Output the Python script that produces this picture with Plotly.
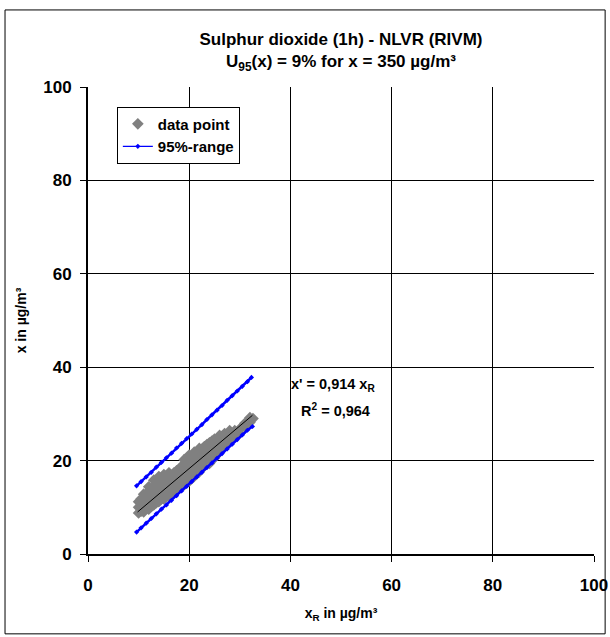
import plotly.graph_objects as go

# ---- data ----
data_x = [
    10, 10, 10,
    10.5, 10.5, 10.5,
    11, 11, 11, 11,
    11.5, 11.5, 11.5,
    12, 12, 12, 12, 12,
    12.5, 12.5, 12.5, 12.5,
    13, 13, 13, 13, 13,
    13.5, 13.5, 13.5, 13.5,
    14, 14, 14, 14, 14,
    14.5, 14.5, 14.5, 14.5,
    15, 15, 15, 15, 15,
    15.5, 15.5, 15.5, 15.5,
    16, 16, 16, 16, 16,
    16.5, 16.5, 16.5, 16.5,
    17, 17, 17, 17,
    17.5, 17.5, 17.5, 17.5,
    18, 18, 18, 18,
    18.5, 18.5, 18.5, 18.5,
    19, 19, 19, 19, 19,
    19.5, 19.5, 19.5, 19.5,
    20, 20, 20, 20, 20,
    20.5, 20.5, 20.5, 20.5,
    21, 21, 21, 21, 21,
    21.5, 21.5, 21.5, 21.5,
    22, 22, 22, 22, 22,
    22.5, 22.5, 22.5, 22.5,
    23, 23, 23, 23,
    23.5, 23.5, 23.5, 23.5,
    24, 24, 24, 24,
    24.5, 24.5, 24.5, 24.5,
    25, 25, 25, 25,
    25.5, 25.5, 25.5,
    26, 26, 26, 26,
    26.5, 26.5, 26.5,
    27, 27, 27,
    28, 28, 28,
    29, 29,
    30, 30,
    31, 31,
    32, 32,
    32.6,
]
data_y = [
    8.8, 10.0, 11.2,
    9.2, 10.5, 11.8,
    9.0, 10.2, 11.5, 12.8,
    9.8, 11.0, 12.3,
    9.6, 10.8, 12.0, 13.4, 14.4,
    10.2, 11.5, 12.8, 13.8,
    10.5, 11.8, 13.0, 14.4, 15.8,
    11.0, 12.4, 13.6, 15.0,
    11.2, 12.5, 13.8, 15.2, 16.6,
    11.8, 13.0, 14.5, 16.0,
    11.8, 13.2, 14.6, 15.8, 17.0,
    12.4, 13.8, 15.2, 16.4,
    12.2, 13.6, 15.0, 16.2, 17.4,
    13.0, 14.3, 15.6, 16.8,
    13.2, 14.6, 16.0, 17.4,
    13.8, 15.0, 16.4, 17.8,
    14.2, 15.5, 16.8, 18.2,
    14.6, 16.0, 17.3, 18.8,
    14.8, 16.2, 17.6, 19.0, 20.2,
    15.4, 16.8, 18.2, 19.5,
    15.6, 17.0, 18.4, 19.8, 21.2,
    16.2, 17.6, 19.0, 20.4,
    16.6, 18.0, 19.4, 20.8, 21.8,
    17.2, 18.6, 20.0, 21.4,
    17.6, 19.0, 20.4, 21.8, 22.6,
    18.4, 19.8, 21.2, 22.4,
    18.8, 20.2, 21.6, 23.0,
    19.4, 20.8, 22.2, 23.4,
    19.4, 20.8, 22.2, 23.8,
    20.2, 21.6, 23.0, 24.2,
    20.6, 22.0, 23.4, 24.6,
    21.4, 22.8, 24.2,
    21.8, 23.2, 24.6, 25.4,
    22.6, 24.0, 25.2,
    23.2, 24.6, 25.8,
    24.2, 25.4, 26.4,
    25.2, 26.4,
    25.8, 26.8,
    27.2, 28.0,
    28.2, 29.2,
    29.0,
]

upper_x = [9.6, 10.5, 11.5, 12.5, 13.5, 14.5, 15.5, 16.5, 17.5, 18.5, 19.5, 20.5,
           21.5, 22.5, 23.5, 24.5, 25.5, 26.5, 27.5, 28.5, 29.5, 30.5, 31.5, 32.3]
upper_y = [14.6, 15.5, 16.5, 17.5, 18.6, 19.6, 20.6, 21.6, 22.7, 23.7, 24.7, 25.7,
           26.7, 27.7, 28.8, 29.8, 30.8, 31.8, 32.9, 33.9, 34.9, 35.9, 36.9, 37.8]
lower_x = [9.6, 10.5, 11.5, 12.5, 13.5, 14.5, 15.5, 16.5, 17.5, 18.5, 19.5, 20.5,
           21.5, 22.5, 23.5, 24.5, 25.5, 26.5, 27.5, 28.5, 29.5, 30.5, 31.5, 32.5]
lower_y = [4.7, 5.6, 6.6, 7.6, 8.6, 9.6, 10.5, 11.5, 12.5, 13.5, 14.5, 15.5,
           16.5, 17.5, 18.5, 19.5, 20.5, 21.5, 22.5, 23.5, 24.5, 25.5, 26.5, 27.3]

fit_x = [9.8, 32.5]
fit_y = [9.0, 29.7]

tick_vals = [0, 20, 40, 60, 80, 100]

FONT = "Arial, 'Liberation Sans', sans-serif"
BLUE = "#0000FF"

fig = go.Figure()
fig.add_trace(go.Scatter(
    x=data_x, y=data_y, mode="markers", name="data point",
    marker=dict(symbol="diamond", size=9, color="#808080", line=dict(width=0)),
))
# legend-only entry for the range lines (thin line with small marker, as in reference)
fig.add_trace(go.Scatter(
    x=[None], y=[None], mode="lines+markers", name="95%-range",
    line=dict(color=BLUE, width=1.2),
    marker=dict(symbol="diamond", size=4, color=BLUE),
))
fig.add_trace(go.Scatter(
    x=upper_x, y=upper_y, mode="lines+markers", showlegend=False,
    line=dict(color=BLUE, width=2.5),
    marker=dict(symbol="diamond", size=4, color=BLUE),
))
fig.add_trace(go.Scatter(
    x=lower_x, y=lower_y, mode="lines+markers", showlegend=False,
    line=dict(color=BLUE, width=2.5),
    marker=dict(symbol="diamond", size=4, color=BLUE),
))
fig.add_trace(go.Scatter(
    x=fit_x, y=fit_y, mode="lines", showlegend=False,
    line=dict(color="black", width=1),
))

axis_common = dict(
    range=[0, 100], tickvals=tick_vals, showgrid=True, gridcolor="black", gridwidth=1,
    showline=True, linecolor="black", linewidth=2, ticks="outside", ticklen=6,
    tickcolor="black", tickwidth=1, zeroline=False, fixedrange=True, automargin=False,
    tickfont=dict(family=FONT, size=17, color="black", weight="bold"),
    mirror=False,
)

fig.update_layout(
    width=610, height=637,
    margin=dict(l=88, r=16, t=87, b=83),
    paper_bgcolor="white", plot_bgcolor="white",
    font=dict(family=FONT, color="black"),
    title=dict(
        text="<b>Sulphur dioxide (1h) - NLVR (RIVM)<br>U<sub>95</sub>(x) = 9% for x = 350 µg/m³</b>",
        x=0.5, xref="paper", xanchor="center", y=1 - 45 / 637, yref="container", yanchor="middle",
        font=dict(family=FONT, size=17, color="black"),
    ),
    xaxis=dict(**axis_common, ticklabelstandoff=9,
               title=dict(text="<b>x<sub>R</sub> in µg/m³</b>", standoff=14,
                          font=dict(family=FONT, size=14, color="black"))),
    yaxis=dict(**axis_common, ticklabelstandoff=5,
               title=dict(text="<b>x in µg/m³</b>", standoff=13,
                          font=dict(family=FONT, size=14, color="black"))),
    legend=dict(
        x=0.057, y=0.958, xanchor="left", yanchor="top",
        bgcolor="white", bordercolor="black", borderwidth=1,
        font=dict(family=FONT, size=15, color="black", weight="bold"),
        tracegroupgap=0, itemwidth=30,
    ),
    showlegend=True,
)

fig.add_annotation(x=39.8, y=36.2, xref="x", yref="y", xanchor="left", yanchor="middle",
                   text="<b>x' = 0,914 x<sub>R</sub></b>", showarrow=False,
                   font=dict(family=FONT, size=14.5, color="black"))
fig.add_annotation(x=41.6, y=30.8, xref="x", yref="y", xanchor="left", yanchor="middle",
                   text="<b>R<sup>2</sup> = 0,964</b>", showarrow=False,
                   font=dict(family=FONT, size=14.5, color="black"))

# outer chart border
fig.add_shape(type="rect", xref="paper", yref="paper",
              x0=-0.164, x1=1.022, y0=-0.171, y1=1.165,
              line=dict(color="black", width=1), fillcolor="rgba(0,0,0,0)", layer="above")

fig.write_html("out.html")
